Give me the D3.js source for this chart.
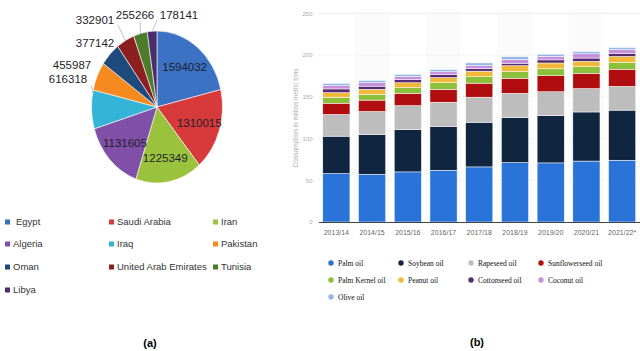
<!DOCTYPE html>
<meta charset="utf-8">
<style>
body {
  margin: 0;
  background: #fff;
}
svg text {
  font-family: "Liberation Sans", Arial, sans-serif;
}
</style>
<body>
<svg width="640" height="351"></svg>
<script src="https://d3js.org/d3.v7.min.js"></script>
<script>
// ---- (a) pie data ----
var countries = ["Egypt", "Saudi Arabia", "Iran", "Algeria", "Iraq", "Pakistan", "Oman", "United Arab Emirates", "Tunisia", "Libya"];
var amounts = [1594032, 1310015, 1225349, 1131605, 616318, 455987, 377142, 332901, 255266, 178141];
var pieColors = ["#3b72c4", "#d63a3a", "#9ac23c", "#8050a8", "#34b5d8", "#f58a21", "#1e4a7c", "#8c1f1f", "#4c7b2c", "#4b2d6b"];

// ---- (b) stacked bar data (million metric tons) ----
var years = ["2013/14", "2014/15", "2015/16", "2016/17", "2017/18", "2018/19", "2019/20", "2020/21", "2021/22*"];
var palmOil       = [58.0, 57.2, 60.0, 62.0, 66.0, 71.2, 70.8, 73.0, 74.0];
var soybeanOil    = [44.8, 47.6, 50.8, 52.7, 53.5, 54.0, 56.5, 58.8, 60.0];
var rapeseedOil   = [26.0, 27.6, 28.6, 28.8, 30.0, 29.0, 28.7, 28.0, 28.5];
var sunflowerOil  = [13.5, 13.6, 14.7, 15.5, 16.8, 18.0, 19.3, 18.3, 20.5];
var palmKernelOil = [7.2, 7.0, 6.7, 8.0, 7.7, 8.0, 8.2, 8.0, 8.0];
var peanutOil     = [5.5, 6.0, 6.0, 6.0, 6.7, 7.0, 7.0, 6.4, 7.3];
var cottonseedOil = [4.4, 3.7, 3.7, 3.5, 3.0, 3.0, 3.7, 3.9, 3.7];
var coconutOil    = [3.9, 4.3, 4.0, 3.5, 3.6, 4.6, 4.1, 5.1, 4.5];
var oliveOil      = [2.7, 2.5, 2.3, 2.5, 3.3, 3.2, 2.7, 2.6, 2.5];
var oilNames = ["Palm oil", "Soybean oil", "Rapeseed oil", "Sunflowerseed oil", "Palm Kernel oil", "Peanut oil", "Cottonseed oil", "Coconut oil", "Olive oil"];
var oilSeries = [palmOil, soybeanOil, rapeseedOil, sunflowerOil, palmKernelOil, peanutOil, cottonseedOil, coconutOil, oliveOil];
var oilColors = ["#2a74d9", "#102640", "#bdbdbd", "#b00d10", "#8cbf3a", "#f2b83a", "#552a6e", "#c690dc", "#93b8e3"];
var yTicks = [0, 50, 100, 150, 200, 250];

var svg = d3.select("svg");

// ================= (a) pie =================
var cx = 157, cy = 107, rx = 65.5, ry = 76, sy = ry / rx;

var slices = d3.pie().sort(null).value(function(d) { return d; })(amounts);
var arc = d3.arc().innerRadius(0).outerRadius(rx);

var pieG = svg.append("g")
    .attr("transform", "translate(" + cx + "," + cy + ") scale(1," + sy + ")");

pieG.selectAll("path")
    .data(slices)
  .enter().append("path")
    .attr("d", arc)
    .attr("fill", function(d, i) { return pieColors[i]; })
    .attr("stroke", "#fff")
    .attr("stroke-width", 0.6)
    .attr("vector-effect", "non-scaling-stroke");

function rimPoint(angle, k) {
  return [cx + Math.sin(angle) * rx * k, cy - Math.cos(angle) * ry * k];
}

// labels inside the four big slices
var inner = slices.slice(0, 4);
svg.append("g").selectAll("text")
    .data(inner)
  .enter().append("text")
    .attr("x", function(d) { return rimPoint((d.startAngle + d.endAngle) / 2, 0.68)[0]; })
    .attr("y", function(d) { return rimPoint((d.startAngle + d.endAngle) / 2, 0.68)[1]; })
    .attr("text-anchor", "middle")
    .attr("dy", "0.35em")
    .style("font-size", "11.5px")
    .attr("fill", "#1e1e2a")
    .text(function(d) { return d.data; });

// labels for the small slices, placed around the top-left (as in the source)
var outerLayout = {
  4: {x: 68, y: 79, from: [91, 85], t: 0.9},
  5: {x: 72, y: 65},
  6: {x: 95, y: 43},
  7: {x: 95, y: 20, from: [118, 25], t: 0.5},
  8: {x: 135, y: 15, from: [140, 21], t: 0.5},
  9: {x: 179, y: 15, from: [157, 20], t: 0.5}
};

slices.slice(4).forEach(function(d, j) {
  var i = j + 4, L = outerLayout[i];
  if (L.from) {
    var a = d.startAngle + (d.endAngle - d.startAngle) * L.t;
    var p = rimPoint(a, 0.99);
    svg.append("line")
        .attr("x1", L.from[0]).attr("y1", L.from[1])
        .attr("x2", p[0]).attr("y2", p[1])
        .attr("stroke", "#a9b9c9")
        .attr("stroke-width", 0.8);
  }
  svg.append("text")
      .attr("x", L.x)
      .attr("y", L.y)
      .attr("text-anchor", "middle")
      .attr("dy", "0.35em")
      .style("font-size", "11.5px")
      .attr("fill", "#1e1e2a")
      .text(d.data);
});

// legend (a)
var legA = svg.append("g");
var legColX = [5, 109, 213], legRowY = [222, 244, 267, 290];
countries.forEach(function(c, i) {
  var gx = legColX[i % 3], gy = legRowY[Math.floor(i / 3)];
  legA.append("rect")
      .attr("x", gx).attr("y", gy - 2.5)
      .attr("width", 5).attr("height", 5)
      .attr("fill", pieColors[i]);
  legA.append("text")
      .attr("x", gx + (i === 0 ? 11 : 8))
      .attr("y", gy)
      .attr("dy", "0.35em")
      .style("font-size", "9.5px")
      .attr("fill", "#333")
      .text(c);
});

svg.append("text")
    .attr("x", 150).attr("y", 343)
    .attr("text-anchor", "middle")
    .attr("dy", "0.35em")
    .style("font-size", "11px")
    .style("font-weight", "bold")
    .text("(a)");

// ================= (b) stacked bars =================
var table = years.map(function(y, i) {
  var row = {year: y};
  oilNames.forEach(function(n, k) { row[n] = oilSeries[k][i]; });
  return row;
});

var x = d3.scaleBand().domain(years).range([318.5, 640]).paddingInner(0.24).paddingOuter(0.12);
var y = d3.scaleLinear().domain([0, 250]).range([222, 13.3]);

var bg = svg.append("g");

// alternating column shading
bg.selectAll("rect")
    .data(years.filter(function(d, i) { return i % 2 === 1; }))
  .enter().append("rect")
    .attr("x", function(d) { return x(d) - x.step() * x.paddingInner() / 2; })
    .attr("width", x.step())
    .attr("y", y(250))
    .attr("height", y(0) - y(250))
    .attr("fill", "#fbfbfb");

// gridlines
bg.selectAll("line")
    .data(yTicks.slice(1))
  .enter().append("line")
    .attr("x1", 318.5).attr("x2", 640)
    .attr("y1", function(d) { return y(d); })
    .attr("y2", function(d) { return y(d); })
    .attr("stroke", "#e9e9e9")
    .attr("stroke-width", 0.8)
    .attr("stroke-dasharray", function(d) { return d === 250 ? null : "2,2"; });

var series = d3.stack().keys(oilNames)(table);

svg.append("g").selectAll("g")
    .data(series)
  .enter().append("g")
    .attr("fill", function(d, i) { return oilColors[i]; })
  .selectAll("rect")
    .data(function(d) { return d; })
  .enter().append("rect")
    .attr("x", function(d) { return x(d.data.year); })
    .attr("width", x.bandwidth())
    .attr("y", function(d) { return y(d[1]); })
    .attr("height", function(d) { return y(d[0]) - y(d[1]); })
    .attr("stroke", "#fff")
    .attr("stroke-width", 0.5);

// axes
var yAxis = svg.append("g")
    .attr("transform", "translate(318.5,0)")
    .call(d3.axisLeft(y).tickValues(yTicks).tickSize(0).tickPadding(6));
yAxis.select(".domain").remove();
yAxis.selectAll("text")
    .style("font-size", "6px")
    .attr("fill", "#aaa");

var xAxis = svg.append("g")
    .attr("transform", "translate(0," + y(0) + ")")
    .call(d3.axisBottom(x).tickSize(0).tickPadding(8));
xAxis.select(".domain")
    .attr("stroke", "#444")
    .attr("stroke-width", 1);
xAxis.selectAll("text")
    .style("font-size", "7px")
    .attr("fill", "#666");

svg.append("text")
    .attr("transform", "translate(296,118) rotate(-90)")
    .attr("text-anchor", "middle")
    .attr("dy", "0.35em")
    .style("font-size", "6.5px")
    .attr("fill", "#aaa")
    .text("Consumption in million metric tons");

// legend (b)
var legB = svg.append("g");
var legBX = [331, 401, 471, 541], legBY = [263, 280, 297];
oilNames.forEach(function(n, i) {
  var gx = legBX[i % 4], gy = legBY[Math.floor(i / 4)];
  legB.append("circle")
      .attr("cx", gx).attr("cy", gy)
      .attr("r", 2.7)
      .attr("fill", oilColors[i]);
  legB.append("text")
      .attr("x", gx + 7)
      .attr("y", gy)
      .attr("dy", "0.35em")
      .style("font-family", "'Liberation Serif', serif")
      .style("font-size", "7.5px")
      .attr("fill", "#111")
      .text(n);
});

svg.append("text")
    .attr("x", 477).attr("y", 342)
    .attr("text-anchor", "middle")
    .attr("dy", "0.35em")
    .style("font-size", "11px")
    .style("font-weight", "bold")
    .text("(b)");
</script>
</body>
